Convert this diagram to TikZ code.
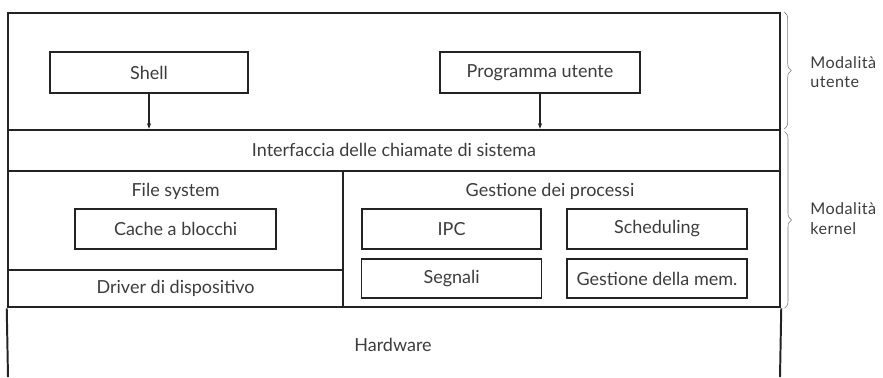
\documentclass[tikz,border=0pt]{standalone}
\usepackage{fontspec}
\setmainfont{Lato}
\usetikzlibrary{decorations.pathreplacing, calc, arrows.meta}
\definecolor{inkline}{RGB}{35, 35, 35}
\definecolor{inktext}{RGB}{60, 60, 60}
\definecolor{bracegray}{RGB}{120, 120, 120}

\begin{document}
\begin{tikzpicture}[
	>={Stealth[length=4pt, width=3pt]},
	font=\fontsize{12.8}{14}\selectfont,
	% Styles for the layers and the inner blocks
	layerbox/.style={draw=inkline, line width=1.4pt, inner sep=0pt},
	module/.style={draw=inkline, line width=1pt, text=inktext, inner sep=0pt},
	labeltext/.style={text=inktext},
	modelabel/.style={text=inktext, font=\fontsize{11.5}{14}\selectfont\addfontfeatures{LetterSpace=3}, align=left, anchor=west, inner sep=0pt},
	sidebrace/.style={decorate, decoration={brace, amplitude=5pt}, draw=bracegray, thin}
	]
	
	% fixed frame, 883 x 377 at 40px per cm
	\useasboundingbox (0, 0) rectangle (22.075, -9.425);
	
	% ==========================================
	% 1. USER MODE LAYER
	% ==========================================
	% From x=0.2 to 19.5, y=-0.325 to -3.25
	\node[layerbox, minimum width=19.3cm, minimum height=2.925cm] (user) at (9.85, -1.7875) {};
	\node[module, minimum width=4.95cm, minimum height=1.025cm] (shell) at (3.725, -1.8125) {Shell};
	\node[module, minimum width=5.0cm, minimum height=1.025cm] (prog) at (13.5, -1.8125) {Programma utente};
	
	% ==========================================
	% 2. KERNEL LAYER
	% ==========================================
	% From x=0.2 to 19.5, y=-3.25 to -7.675
	\node[layerbox, line width=1.8pt, minimum width=19.3cm, minimum height=4.425cm] (kernel) at (9.85, -5.4625) {};
	
	% System call row
	\coordinate (rowleft) at (0.2, -4.275);
	\coordinate (rowright) at (19.5, -4.275);
	\draw[inkline, line width=1.2pt] (rowleft) -- (rowright);
	\node[labeltext] (syscall) at (9.85, -3.76) {Interfaccia delle chiamate di sistema};
	
	% Split between file system and processes
	\coordinate (splittop) at (8.575, -4.275);
	\draw[inkline, line width=1.2pt] (splittop) -- (splittop |- kernel.south);
	
	% Left half: file system and drivers
	\node[labeltext] (fs) at (4.39, -4.775) {File system};
	\node[module, minimum width=5.025cm, minimum height=1.0cm] (cache) at (4.39, -5.725) {Cache a blocchi};
	\coordinate (drvtop) at (0.2, -6.75);
	\draw[inkline, line width=1.2pt] (drvtop) -- (drvtop -| splittop);
	\node[labeltext] (driver) at (4.39, -7.22) {Driver di dispositivo};
	
	% Right half: process management
	\node[labeltext] (proc) at (13.75, -4.775) {Gestione dei processi};
	\node[module, minimum width=4.475cm, minimum height=1.0cm] (ipc) at (11.29, -5.725) {IPC};
	\node[module, minimum width=4.5cm, minimum height=1.0cm] (sched) at (16.425, -5.725) {Scheduling};
	\node[module, minimum width=4.5cm, minimum height=0.975cm] (sig) at (11.29, -6.9625) {Segnali};
	\node[module, minimum width=4.5cm, minimum height=0.975cm] (mem) at (16.425, -6.9625) {Gestione della mem.};
	
	% Calls into the kernel
	\draw[->, inkline, line width=1pt] (shell.south) -- (shell.south |- kernel.north);
	\draw[->, inkline, line width=1pt] (prog.south) -- (prog.south |- kernel.north);
	
	% ==========================================
	% 3. HARDWARE
	% ==========================================
	% Open at the bottom, sides run to the edge
	\coordinate (hwbottomleft) at (0.2, -9.425);
	\coordinate (hwbottomright) at (19.5, -9.425);
	\draw[inkline, line width=1.4pt] (kernel.south west) -- (hwbottomleft);
	\draw[inkline, line width=1.4pt] (kernel.south east) -- (hwbottomright);
	\node[labeltext] (hw) at (9.825, -8.625) {Hardware};
	
	% ==========================================
	% 4. MODE BRACES
	% ==========================================
	\draw[sidebrace] ($(user.north east)+(0.08, 0)$) -- ($(user.south east)+(0.08, 0.05)$);
	\node[modelabel] (usermode) at (20.25, -1.8) {Modalità\\utente};
	
	\draw[sidebrace] ($(kernel.north east)+(0.08, -0.07)$) -- ($(kernel.south east)+(0.08, 0)$);
	\node[modelabel] (kernelmode) at (20.25, -5.47) {Modalità\\kernel};
\end{tikzpicture}
\end{document}
